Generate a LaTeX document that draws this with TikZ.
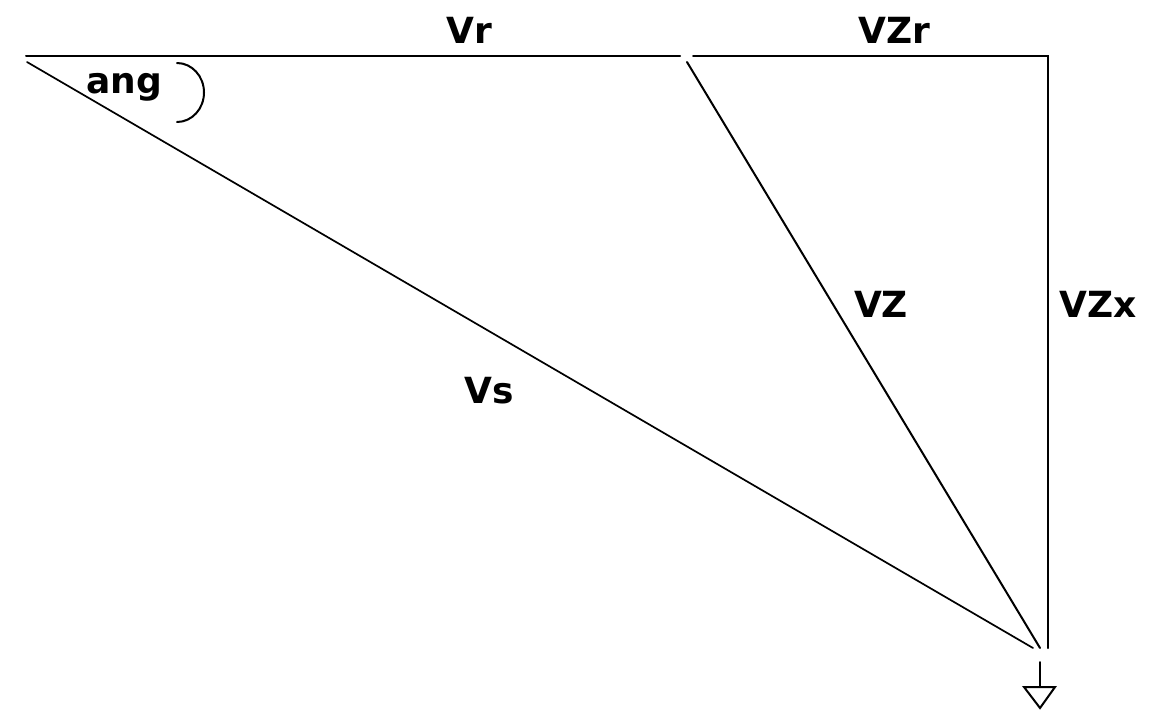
\documentclass[tikz,border=0pt]{standalone}
\usepackage{fontspec}
\setmainfont{DejaVu Sans}
\begin{document}
\begin{tikzpicture}[x=1pt,y=-1pt,
  wire/.style={line width=2pt,line cap=round},
  lbl/.style={font=\bfseries\fontsize{36}{40}\selectfont,inner sep=0pt,anchor=base}]
\useasboundingbox (0,0) rectangle (1156,721);
\coordinate (A) at (26,56);
\coordinate (A2) at (27,62);
\coordinate (B1) at (680,56);
\coordinate (B2) at (693,56);
\coordinate (B3) at (687,62);
\coordinate (C) at (1048,56);
\coordinate (D) at (1048,648);
\coordinate (E1) at (1033,648);
\coordinate (E2) at (1040,648);
\coordinate (G1) at (1040,662);
\coordinate (G2) at (1040,687);
\draw[wire] (A) -- (B1);
\draw[wire] (B2) -- (C) -- (D);
\draw[line width=1.7pt,line cap=round] (A2) -- (E1);
\draw[wire] (B3) -- (E2);
\draw[wire] (G1) -- (G2);
\draw[wire,line join=miter] (1024,687) -- (1055,687) -- (1040,708) -- cycle;
\draw[wire] (177,63) arc[start angle=-90,end angle=90,x radius=27,y radius=29.5];
\node[lbl] (vr) at (469,43) {Vr};
\node[lbl] (vzr) at (894,43) {VZr};
\node[lbl] (vz) at (881,317) {VZ};
\node[lbl] (vzx) at (1098,317) {VZx};
\node[lbl] (vs) at (489,403) {Vs};
\node[lbl] (ang) at (124,93) {ang};
\end{tikzpicture}
\end{document}
